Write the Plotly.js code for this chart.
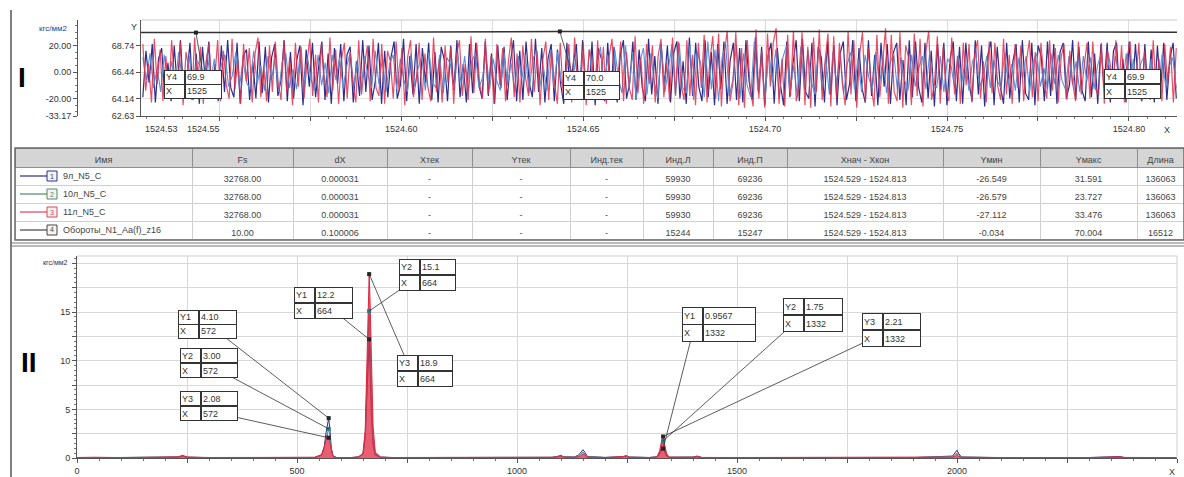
<!DOCTYPE html>
<html><head><meta charset="utf-8">
<script src="https://cdn.plot.ly/plotly-3.0.1.min.js"></script>
<style>html,body{margin:0;padding:0;background:#fff}#chart{width:1184px;height:477px}</style>
</head><body><div id="chart"></div><script>
// ================= DATA =================
const seriesNames = ['9л_N5_C', '10л_N5_C', '11л_N5_C', 'Обороты_N1_Aa(f)_z16'];
const tableHeaders = ['Имя', 'Fs', 'dX', 'Xтек', 'Yтек', 'Инд.тек', 'Инд.Л', 'Инд.П', 'Xнач - Xкон', 'Yмин', 'Yмакс', 'Длина'];
const colFs = ['32768.00', '32768.00', '32768.00', '10.00'];
const colDX = ['0.000031', '0.000031', '0.000031', '0.100006'];
const colXcur = ['-', '-', '-', '-'];
const colYcur = ['-', '-', '-', '-'];
const colIdxCur = ['-', '-', '-', '-'];
const colIdxL = ['59930', '59930', '59930', '15244'];
const colIdxR = ['69236', '69236', '69236', '15247'];
const colRange = ['1524.529 - 1524.813', '1524.529 - 1524.813', '1524.529 - 1524.813', '1524.529 - 1524.813'];
const colYmin = ['-26.549', '-26.579', '-27.112', '-0.034'];
const colYmax = ['31.591', '23.727', '33.476', '70.004'];
const colLen = ['136063', '136063', '136063', '16512'];

// time window of panel I
const timeStart = 1524.529;
const timeEnd = 1524.813;

// panel I signals (estimated swings, kgf/mm2)
const sig1 = [
-19,16,-8,21,-23,10,18,-20,7,-22, 20,-13,24,-17,-5,22,-21,14,-24,19,
-10,23,-18,6,-22,20,-15,24,-12,-19, 22,-24,12,17,-21,8,-20,23,-16,19,
-23,11,21,-18,-6,24,-22,15,-20,9, 20,-25,17,-11,22,-19,5,23,-21,14,
-24,18,-9,21,-22,13,19,-23,8,-18, 24,-15,20,-21,-7,22,-24,16,-19,11,
23,-20,-10,25,-22,12,-17,21,-24,18, -8,22,-21,15,-23,19,9,-22,20,-14,
24,-19,6,-23,21,-16,22,-10,-20,23, -18,14,-24,20,-12,19,-21,7,24,-22,
16,-21,23,-8,-19,25,-15,18,-23,10, 21,-22,17,-9,-24,22,-18,6,21,-20,
24,-14,-19,23,-25,18,10,-22,22,-16, 19,-23,13,24,-20,-8,23,-21,17,-12,
-22,25,-17,12,-24,21,-10,20,-23,14, 23,-20,8,-24,26,-18,22,-11,-22,24,
-19,15,-25,21,-13,23,-24,9,22,-21, 18,-23,24,-7,-21,26,-16,19,-25,12,
22,-24,18,-10,-25,23,-19,7,24,-22, 25,-15,-20,22,-26,19,11,-23,23,-17,
20,-25,14,23,-21,-9,24,-22,18,-13, -23,24,-18,13,-25,22,-11,21,-24,15,
22,-21,9,-25,24,-19,23,-12,-23,22, -20,16,-26,21,-14,22,-25,10,23,-22,
19,-24,22,-8,-22,24,-17,20,-26,13, 23,-25,19,-11,-24,22,-20,8,21,-23,
24,-16,-21,22,-25,20,12,-22,23,-18, 21,-24,15,22,-20,-10,24,-21,19,-14,
-22,23,-19,14,-24,21,-12,22,-23,16, 22,-20,10,-23,23,-18,21,-13,-22,21,
-19,17,-23,20,-15,22,-21,11,22,-20
];
const sig2 = [
11,-6,14,-12,3,-15,13,-9,8,-14, 15,-4,-11,12,-16,9,5,-13,14,-7,
10,-15,6,13,-11,-3,15,-12,9,-8, -13,16,-9,5,-14,12,-6,11,-15,8,
14,-12,2,-13,15,-10,12,-5,-14,13, -10,7,-16,13,-6,11,-12,4,15,-11,
9,-14,12,-3,-12,16,-9,10,-15,6, 13,-13,10,-6,-15,14,-11,3,12,-14,
15,-8,-12,13,-16,11,6,-13,14,-9, 12,-15,8,14,-12,-4,13,-13,10,-7,
-14,15,-10,7,-15,12,-5,13,-16,9, 16,-11,4,-14,17,-12,15,-7,-15,18,
-13,10,-18,16,-9,17,-16,6,19,-14, 12,-19,17,-5,-16,20,-13,15,-21,8,
18,-17,14,-7,-20,19,-15,4,21,-18, 22,-12,-16,20,-21,15,7,-19,23,-13,
17,-22,11,21,-18,-6,20,-20,14,-10, -19,23,-14,9,-21,18,-8,17,-20,11,
20,-16,5,-18,19,-13,17,-8,-17,18, -14,10,-17,15,-9,14,-16,6,15,-13,
10,-15,13,-4,-13,15,-10,11,-16,7, 14,-13,11,-6,-14,13,-11,3,12,-13,
13,-8,-12,12,-15,10,5,-12,13,-9, 11,-14,8,13,-11,-4,12,-12,9,-7,
-12,14,-9,6,-14,11,-5,12,-15,8, 14,-11,3,-13,14,-9,13,-6,-13,12,
-10,8,-15,12,-7,11,-13,5,14,-11, 9,-13,12,-3,-12,14,-9,10,-14,6,
12,-12,10,-5,-13,13,-10,4,11,-12
];
const sig3 = [
21,-14,6,-23,25,-9,17,-22,12,-19, 24,-6,-18,23,-25,15,3,-21,26,-12,
19,-24,8,22,-17,-5,24,-22,16,-10, -20,25,-13,9,-24,21,-7,18,-23,14,
26,-19,4,-22,20,-15,23,-8,-21,24, -16,11,-25,22,-11,19,-20,7,25,-18,
13,-23,21,-4,-19,26,-14,17,-24,9, 22,-20,15,-9,-23,24,-17,5,20,-22,
25,-12,-18,21,-24,16,8,-20,23,-15, 18,-25,11,24,-19,-6,22,-21,14,-11,
-22,26,-15,10,-23,20,-8,19,-24,13, 24,-18,6,-21,27,-16,22,-9,-20,25,
-17,12,-24,21,-10,18,-22,8,26,-19, 14,-23,20,-5,-18,25,-15,16,-25,10,
23,-21,17,-8,-24,22,-16,4,21,-23, 26,-13,-19,22,-25,17,9,-21,24,-14,
19,-24,12,25,-20,-7,23,-22,15,-12, -21,27,-16,11,-24,21,-9,20,-23,12,
25,-19,7,-22,26,-17,23,-10,-21,24, -18,13,-25,22,-12,28,-23,9,27,-20,
29,-26,14,31,-22,-8,30,-25,18,-27, 24,-13,-26,32,-20,16,-27,29,-11,22,
33,-24,10,-26,28,-18,31,-22,-12,30, -25,19,-27,26,-15,32,-21,8,29,-26,
27,-20,22,-9,-25,31,-17,24,-27,13, 30,-23,18,-10,-26,28,-19,6,33,-24,
28,-15,-22,30,-27,20,11,-25,29,-18, 25,-26,15,31,-21,-9,27,-24,19,-14,
-22,26,-17,12,-24,22,-10,21,-23,14, 24,-20,8,-23,23,-16,22,-11,-21,25,
-17,13,-24,21,-12,20,-22,9,24,-19, 15,-22,22,-6,-20,24,-14,18,-23,11,
21,-21,16,-8,-22,23,-17,5,22,-20, 23,-13,-18,22,-24,17,7,-20,24,-15,
20,-23,12,23,-19,-6,22,-22,16,-12, -21,24,-15,10,-22,21,-9,19,-23,18
];
// revolutions (series 4), Fs = 10
const rpmX = [1524.4436, 1524.5436, 1524.6436, 1524.7436, 1524.8436];
const rpmY = [69.9, 69.9, 70.0, 70.0, 69.9];
const rpmCursorIdx = [1, 2, 4];

// panel II spectra
const specF = [0,40,100,180,230,240,250,300,400,480,540,556,562,566,569,572,575,578,582,590,
620,640,650,655,659,662,664,666,669,673,678,690,720,800,900,1000,1080,1095,1100,1105,
1130,1140,1145,1150,1155,1160,1200,1240,1248,1255,1300,1318,1324,1328,1332,1336,1340,1346,1380,1400,
1410,1420,1500,1700,1900,1990,1996,2000,2004,2010,2100,2300,2370,2380,2500];
const spec1 = [0.03,0.06,0.05,0.08,0.1,0.22,0.08,0.04,0.05,0.03,0.06,0.3,1.2,2.6,3.4,4.10,2.8,1.0,0.2,0.05,
0.03,0.1,0.4,2.0,6.5,10.8,12.2,9.5,4.5,1.2,0.3,0.08,0.04,0.05,0.03,0.05,0.06,0.2,0.3,0.12,
0.1,0.3,0.6,0.85,0.55,0.15,0.06,0.12,0.25,0.1,0.05,0.1,0.4,0.8,0.9567,0.6,0.2,0.06,0.04,0.1,
0.2,0.05,0.04,0.03,0.04,0.2,0.5,0.8,0.45,0.1,0.04,0.05,0.15,0.05,0.03];
const spec2 = [0.04,0.05,0.04,0.06,0.08,0.18,0.07,0.04,0.05,0.04,0.05,0.3,1.0,2.0,2.6,3.00,2.1,0.8,0.15,0.04,
0.03,0.1,0.45,2.4,8.0,13.5,15.1,12.5,6.0,1.8,0.4,0.08,0.04,0.05,0.04,0.04,0.07,0.15,0.22,0.1,
0.08,0.22,0.4,0.6,0.4,0.12,0.05,0.1,0.2,0.08,0.05,0.1,0.5,1.2,1.75,1.0,0.3,0.08,0.05,0.07,
0.12,0.05,0.04,0.03,0.04,0.15,0.35,0.5,0.3,0.08,0.04,0.04,0.1,0.05,0.03];
const spec3 = [0.05,0.08,0.04,0.1,0.12,0.28,0.1,0.05,0.06,0.04,0.07,0.35,1.1,1.9,2.4,2.08,1.5,0.6,0.15,0.05,
0.04,0.12,0.5,2.8,9.5,16.5,18.9,16.2,9.0,3.2,0.6,0.1,0.05,0.06,0.04,0.05,0.08,0.15,0.2,0.1,
0.08,0.15,0.25,0.45,0.3,0.1,0.05,0.1,0.18,0.08,0.05,0.12,0.7,1.6,2.21,1.3,0.45,0.1,0.05,0.08,
0.15,0.06,0.05,0.04,0.05,0.1,0.2,0.35,0.18,0.08,0.05,0.04,0.12,0.06,0.04];
const cursorF = [572, 664, 1332];

// tick labels
const topTickVals = [1524.55,1524.575,1524.60,1524.625,1524.65,1524.675,1524.70,1524.725,1524.75,1524.775,1524.80];
const topTickText = ['','','1524.60','','1524.65','','1524.70','','1524.75','','1524.80'];
const outerTickVals = [20, 0, -20, -33.17];
const outerTickText = ['20.00', '0.00', '-20.00', '-33.17'];
const innerTickVals = [68.74, 66.44, 64.14, 62.63];
const innerTickText = ['68.74', '66.44', '64.14', '62.63'];
const specXTickVals = [0,250,500,750,1000,1250,1500,1750,2000,2250,2500];
const specXTickText = ['0','','500','','1000','','1500','','2000','',''];
const specYTickVals = [0,2.5,5,7.5,10,12.5,15,17.5,20];
const specYTickText = ['0','','5','','10','','15','',''];

// ================= STYLE / LAYOUT =================
const W = 1184, H = 477;
const FONT = 'Liberation Sans, Arial, sans-serif';
const colors = ['#2b2e8e', '#5b93d8', '#e0304c', '#333333'];
const iconColors = ['#2b2e8e', '#4f8a62', '#e0405a', '#444444'];
const px = v => v / W, py = v => 1 - v / H;

function timeAxis(n) { const a = []; for (let i = 0; i < n; i++) a.push(timeStart + i * (timeEnd - timeStart) / (n - 1)); return a; }

const traces = [
  {x: timeAxis(sig1.length), y: sig1, type: 'scatter', mode: 'lines', xaxis: 'x', yaxis: 'y', line: {color: colors[0], width: 1.2}},
  {x: timeAxis(sig2.length), y: sig2, type: 'scatter', mode: 'lines', xaxis: 'x', yaxis: 'y', line: {color: colors[1], width: 1.1}},
  {x: timeAxis(sig3.length), y: sig3, type: 'scatter', mode: 'lines', xaxis: 'x', yaxis: 'y', opacity: 0.85, line: {color: colors[2], width: 1.2}},
  {x: rpmX, y: rpmY, type: 'scatter', mode: 'lines', xaxis: 'x', yaxis: 'y2', line: {color: '#333', width: 1.5}},
  {x: rpmCursorIdx.slice(0,2).map(i => rpmX[i]), y: rpmCursorIdx.slice(0,2).map(i => rpmY[i]), type: 'scatter', mode: 'markers', xaxis: 'x', yaxis: 'y2', marker: {color: '#222', size: 4, symbol: 'square'}},
  {x: specF, y: spec1, type: 'scatter', mode: 'lines', xaxis: 'x2', yaxis: 'y3', line: {color: colors[0], width: 1}},
  {x: specF, y: spec2, type: 'scatter', mode: 'lines', xaxis: 'x2', yaxis: 'y3', line: {color: '#2f9a9a', width: 1}},
  {x: specF, y: spec3, type: 'scatter', mode: 'lines', xaxis: 'x2', yaxis: 'y3', fill: 'tozeroy', fillcolor: 'rgba(226,40,64,0.75)', line: {color: '#e02840', width: 1}},
];
const specs = [spec1, spec2, spec3];
[0,1,2].forEach(s => {
  traces.push({x: cursorF, y: cursorF.map(f => specs[s][specF.indexOf(f)]), type: 'scatter', mode: 'markers', xaxis: 'x2', yaxis: 'y3',
    marker: {color: s === 1 ? '#1f7f7f' : '#222', size: 4, symbol: 'square'}});
});

// table
traces.push({
  type: 'table', domain: {x: [px(15), 1], y: [py(241), py(148)]},
  columnwidth: [177,101,94,85,98,73,70,74,156,97,97,47],
  header: {values: tableHeaders, align: 'center', height: 19, fill: {color: '#d5d5d5'}, line: {color: '#8e8e8e', width: 1},
           font: {family: FONT, size: 9, color: '#444'}},
  cells: {values: [['','','',''], colFs, colDX, colXcur, colYcur, colIdxCur, colIdxL, colIdxR, colRange, colYmin, colYmax, colLen],
          align: 'center', height: 18, fill: {color: 'rgba(0,0,0,0)'}, line: {color: '#d0d0d0', width: 1},
          font: {family: FONT, size: 9, color: '#444'}}
});

const tickFont = {family: FONT, size: 9, color: '#333'};
const layout = {
  width: W, height: H, margin: {l: 0, r: 0, t: 0, b: 0}, showlegend: false,
  paper_bgcolor: '#fff', plot_bgcolor: '#fff', font: {family: FONT, size: 9, color: '#333'},
  xaxis: {domain: [px(141), px(1177)], range: [1524.5285, 1524.8132], anchor: 'y2', tickmode: 'array', tickvals: topTickVals, ticktext: topTickText,
          showgrid: true, gridcolor: '#dcdcdc', showline: true, linecolor: '#555', ticks: 'outside', ticklen: 4, tickcolor: '#555', tickfont: tickFont, zeroline: false,
          minor: {dtick: 0.005, ticklen: 2, ticks: 'outside', tickcolor: '#777', showgrid: false}},
  yaxis: {domain: [py(116), py(20)], range: [-33.17, 39.2], anchor: 'free', position: px(77), tickmode: 'array', tickvals: outerTickVals, ticktext: outerTickText,
          showline: true, linecolor: '#555', ticks: 'outside', ticklen: 4, tickcolor: '#555', showgrid: false, zeroline: false, tickfont: tickFont,
          minor: {dtick: 5, ticklen: 2, ticks: 'outside', tickcolor: '#777', showgrid: false}},
  yaxis2: {range: [62.63, 71.0], anchor: 'x', overlaying: 'y', side: 'left', tickmode: 'array', tickvals: innerTickVals, ticktext: innerTickText,
           showline: true, linecolor: '#555', ticks: 'outside', ticklen: 4, tickcolor: '#555', showgrid: true, gridcolor: '#e2e2e2', zeroline: false, tickfont: tickFont},
  xaxis2: {domain: [px(77), px(1177)], range: [0, 2500], anchor: 'y3', tickmode: 'array', tickvals: specXTickVals, ticktext: specXTickText,
           showgrid: true, gridcolor: '#d8d8d8', showline: true, linecolor: '#555', ticks: 'outside', ticklen: 4, tickcolor: '#555', zeroline: false, tickfont: tickFont,
           minor: {dtick: 50, ticklen: 2, ticks: 'outside', tickcolor: '#777', showgrid: false}},
  yaxis3: {domain: [py(458), py(256)], range: [0, 20.76], anchor: 'x2', tickmode: 'array', tickvals: specYTickVals, ticktext: specYTickText,
           showgrid: true, gridcolor: '#d8d8d8', showline: true, linecolor: '#555', ticks: 'outside', ticklen: 4, tickcolor: '#555', zeroline: false, tickfont: tickFont,
           minor: {dtick: 0.5, ticklen: 2, ticks: 'outside', tickcolor: '#777', showgrid: false}},
  shapes: [],
  annotations: []
};

const S = layout.shapes, A = layout.annotations;
const pline = (x0, y0, x1, y1, color, width) => S.push({type: 'line', xref: 'paper', yref: 'paper', x0: px(x0), y0: py(y0), x1: px(x1), y1: py(y1), line: {color, width}});
pline(11, 10, 11, 477, '#555', 1.5);
pline(141, 20, 1177, 20, '#c8c8c8', 1);
pline(77, 256, 1177, 256, '#d0d0d0', 1);
pline(1177, 256, 1177, 458, '#d0d0d0', 1);
S.push({type: 'rect', xref: 'paper', yref: 'paper', x0: px(15), y0: py(148), x1: px(1184), y1: py(240), line: {color: '#6a6a6a', width: 1.5}});
pline(11, 243, 1184, 243, '#777', 1);
pline(11, 246, 1184, 246, '#777', 1);

// table row icons + names
const txt = (x, y, text, opts) => A.push(Object.assign({xref: 'paper', yref: 'paper', x: px(x), y: py(y), text, showarrow: false,
  font: {family: FONT, size: 9, color: '#333'}, xanchor: 'left', yanchor: 'middle'}, opts || {}));
seriesNames.forEach((name, i) => {
  const cy = 176 + 18 * i;
  pline(20, cy, 47, cy, iconColors[i], 1.2);
  S.push({type: 'rect', xref: 'paper', yref: 'paper', x0: px(47), y0: py(cy - 5), x1: px(57), y1: py(cy + 5), line: {color: iconColors[i], width: 1}, fillcolor: '#f4f4f4'});
  txt(52, cy, String(i + 1), {xanchor: 'center', font: {family: FONT, size: 7, color: iconColors[i]}});
  txt(61, cy, name, {font: {family: FONT, size: 9, color: '#444'}});
});

// static texts
txt(22, 77, '<b>I</b>', {xanchor: 'center', font: {family: FONT, size: 28, color: '#000'}});
txt(29, 362, '<b>II</b>', {xanchor: 'center', font: {family: FONT, size: 28, color: '#000'}});
txt(69, 28, 'кгс/мм2', {xanchor: 'right', font: {family: FONT, size: 8, color: '#2a3a8c'}});
txt(70, 262, 'кгс/мм2', {xanchor: 'right', font: {family: FONT, size: 7, color: '#2a3060'}});
txt(134, 27, 'Y', {xanchor: 'center', font: {family: FONT, size: 9, color: '#333'}});
txt(143, 129, '1524.53', {font: tickFont});
txt(222, 129, '1524.55', {xanchor: 'right', font: tickFont});
txt(1167, 130, 'X', {xanchor: 'center', font: tickFont});
txt(1172, 472, 'X', {xanchor: 'center', font: tickFont});

// cursor boxes (pixel layout positions)
const boxSpecs = [
  {panel: 2, s: 0, c: 0, l: 178, t: 310, r: 237, b: 339, arrow: 'br'},
  {panel: 2, s: 1, c: 0, l: 180, t: 348, r: 238, b: 378, arrow: 'br'},
  {panel: 2, s: 2, c: 0, l: 180, t: 391, r: 238, b: 421, arrow: 'br'},
  {panel: 2, s: 0, c: 1, l: 294, t: 287, r: 353, b: 319, arrow: 'br'},
  {panel: 2, s: 1, c: 1, l: 399, t: 259, r: 456, b: 291, arrow: 'bl'},
  {panel: 2, s: 2, c: 1, l: 397, t: 355, r: 453, b: 387, arrow: 'tl'},
  {panel: 2, s: 0, c: 2, l: 682, t: 307, r: 756, b: 342, arrow: 'bl'},
  {panel: 2, s: 1, c: 2, l: 783, t: 298, r: 843, b: 332, arrow: 'bl'},
  {panel: 2, s: 2, c: 2, l: 862, t: 313, r: 921, b: 347, arrow: 'bl'},
  {panel: 1, c: 0, l: 164, t: 70, r: 222, b: 99, arrow: 'tr'},
  {panel: 1, c: 1, l: 563, t: 71, r: 620, b: 100, arrow: 'tl'},
  {panel: 1, c: 2, l: 1104, t: 69, r: 1161, b: 99, arrow: null},
];
const fmt = v => (v < 1 ? v.toPrecision(4) : v.toPrecision(3));

const gd = document.getElementById('chart');
Plotly.newPlot(gd, traces, layout, {staticPlot: true, displayModeBar: false}).then(() => {
  const fl = gd._fullLayout;
  const extra = [];
  boxSpecs.forEach(b => {
    let lab, val, xt, pt;
    if (b.panel === 2) {
      const f = cursorF[b.c], v = specs[b.s][specF.indexOf(f)];
      lab = 'Y' + (b.s + 1); val = fmt(v); xt = String(f);
      pt = {xref: 'x2', yref: 'y3', x: f, y: v, px: fl.xaxis2._offset + fl.xaxis2.l2p(f), py: fl.yaxis3._offset + fl.yaxis3.l2p(v)};
    } else {
      const i = rpmCursorIdx[b.c], x = rpmX[i], v = rpmY[i];
      lab = 'Y4'; val = v.toFixed(1); xt = String(Math.round(x));
      pt = {xref: 'x', yref: 'y2', x: x, y: v, px: fl.xaxis._offset + fl.xaxis.l2p(x), py: fl.yaxis2._offset + fl.yaxis2.l2p(v)};
    }
    const lw = 21, rh = (b.b - b.t) / 2;
    const cells = [
      {k: 'tl', x0: b.l, x1: b.l + lw, y0: b.t, y1: b.t + rh, text: lab},
      {k: 'tr', x0: b.l + lw, x1: b.r, y0: b.t, y1: b.t + rh, text: val},
      {k: 'bl', x0: b.l, x1: b.l + lw, y0: b.t + rh, y1: b.b, text: 'X'},
      {k: 'br', x0: b.l + lw, x1: b.r, y0: b.t + rh, y1: b.b, text: xt},
    ];
    cells.forEach(c => {
      const cx = (c.x0 + c.x1) / 2, cy = (c.y0 + c.y1) / 2;
      const a = {text: c.text, width: c.x1 - c.x0 - 4, height: c.y1 - c.y0 - 4, align: 'left', valign: 'middle', bgcolor: '#fff',
        bordercolor: '#333', borderwidth: 1, borderpad: 1, font: {family: FONT, size: 9, color: '#333'}, xanchor: 'center', yanchor: 'middle'};
      if (b.arrow === c.k) {
        Object.assign(a, {xref: pt.xref, yref: pt.yref, x: pt.x, y: pt.y, showarrow: true, arrowhead: 0, arrowwidth: 0.8, arrowcolor: '#333',
          ax: cx - pt.px, ay: cy - pt.py, axref: 'pixel', ayref: 'pixel', standoff: 0});
      } else {
        Object.assign(a, {xref: 'paper', yref: 'paper', x: px(cx), y: py(cy), showarrow: false});
      }
      extra.push(a);
    });
  });
  return Plotly.relayout(gd, {annotations: A.concat(extra)});
});
</script></body></html>
